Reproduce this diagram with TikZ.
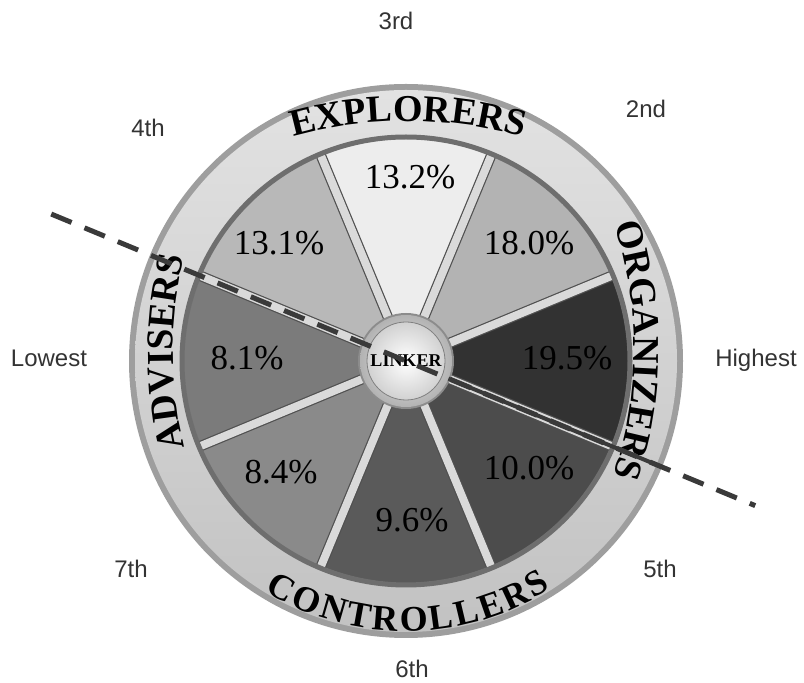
\documentclass[tikz,border=0pt]{standalone}
\usepackage{fontspec}
\setmainfont{Liberation Serif}
\newfontfamily\labfont{Liberation Sans}
\usetikzlibrary{decorations.text,calc}
\definecolor{sA}{HTML}{EDEDED}
\definecolor{sB}{HTML}{B3B3B3}
\definecolor{sC}{HTML}{323232}
\definecolor{sD}{HTML}{4C4C4C}
\definecolor{sE}{HTML}{5A5A5A}
\definecolor{sF}{HTML}{8A8A8A}
\definecolor{sG}{HTML}{7B7B7B}
\definecolor{sH}{HTML}{B8B8B8}
\definecolor{rimcol}{HTML}{9E9E9E}
\definecolor{bandtop}{HTML}{E2E2E2}
\definecolor{bandbot}{HTML}{C2C2C2}
\definecolor{darkline}{HTML}{6E6E6E}
\definecolor{divlight}{HTML}{DADADA}
\definecolor{divedge}{HTML}{505050}
\definecolor{dashcol}{HTML}{3A3A3A}
\definecolor{labcol}{HTML}{333333}
\begin{document}
\begin{tikzpicture}[x=1pt,y=1pt,
  rank/.style={font=\labfont\fontsize{24}{24}\selectfont, text=labcol, anchor=base, inner sep=0pt},
  pct/.style={font=\fontsize{35}{35}\selectfont, text=black, inner sep=0pt},
  ringtext/.style={decorate, decoration={text along path, text align=center, text={|\fontsize{38}{38}\selectfont\bfseries|#1}}},
  ringfit/.style={decorate, decoration={text along path, text align=fit to path, text={|\fontsize{36}{36}\selectfont\bfseries|#1}}},
  divider/.style={draw=divedge, line width=1.2, double=divlight, double distance=8}
]
\useasboundingbox (0,0) rectangle (804,683);
\coordinate (C) at (406,322);

% outer ring
\fill[rimcol] (C) circle[radius=277];
\shade[top color=bandtop, bottom color=bandbot] (C) circle[radius=271];

% sectors
\foreach \a/\c in {90/sA,45/sB,0/sC,-45/sD,-90/sE,-135/sF,180/sG,135/sH}{
  \fill[\c] (C) -- ++(\a-22.5:222) arc[start angle=\a-22.5, end angle=\a+22.5, radius=222] -- cycle;
}
% dividers
\foreach \a in {22.5,67.5,112.5,157.5,202.5,247.5,292.5,337.5}{
  \draw[divider] (C) -- ++(\a:222);
}
% inner dark circle line
\draw[darkline, line width=5] (C) circle[radius=224];

% centre hub
\fill[black!45] (C) circle[radius=48];
\shade[inner color=black!8, outer color=black!30] (C) circle[radius=46];
\shade[inner color=white, outer color=black!18] (C) circle[radius=39];
\draw[black!50, line width=0.8] (C) circle[radius=39];
\node (linker) at (C) {\fontsize{18}{18}\selectfont\bfseries LINKER};

% ring texts
\coordinate (expC) at (408,135);
\path[ringtext=EXPLORERS] (expC) ++(112:427) arc[start angle=112, end angle=68, radius=427];
\coordinate (orgC) at (234,333);
\path[ringtext=ORGANIZERS] (orgC) ++(24:400) arc[start angle=24, end angle=-24, radius=400];
\coordinate (advC) at (573,331);
\path[ringtext=ADVISERS] (advC) ++(204:400) arc[start angle=204, end angle=156, radius=400];
\path[ringfit=CONTROLLERS] (C) ++(238.5:270) arc[start angle=238.5, end angle=302.5, radius=270];

% percentages
\node[pct] (p1) at (410,506) {13.2\%};
\node[pct] (p2) at (529,440) {18.0\%};
\node[pct] (p3) at (567,325) {19.5\%};
\node[pct] (p4) at (529,215) {10.0\%};
\node[pct] (p5) at (412,163) {9.6\%};
\node[pct] (p6) at (281,211) {8.4\%};
\node[pct] (p7) at (247,325) {8.1\%};
\node[pct] (p8) at (279,440) {13.1\%};

% dashed line
\coordinate (dashL) at ($(C)+(157.5:384)$);
\coordinate (dashR) at ($(C)+(-22.5:378)$);
\coordinate (solA) at ($(C)+(-22.5:46)$);
\coordinate (solB) at ($(C)+(-22.5:277)$);
\draw[dashcol, line width=5, dash pattern=on 22 off 14] (dashL) -- (dashR);
\draw[dashcol, line width=4] (solA) -- (solB);

% rank labels
\node[rank] (r3) at (396,653) {3rd};
\node[rank] (r2) at (646,565) {2nd};
\node[rank] (r4) at (148,546) {4th};
\node[rank] (rlow) at (49,316) {Lowest};
\node[rank] (rhigh) at (756,316) {Highest};
\node[rank] (r7) at (131,105) {7th};
\node[rank] (r5) at (660,105) {5th};
\node[rank] (r6) at (412,5) {6th};
\end{tikzpicture}
\end{document}
